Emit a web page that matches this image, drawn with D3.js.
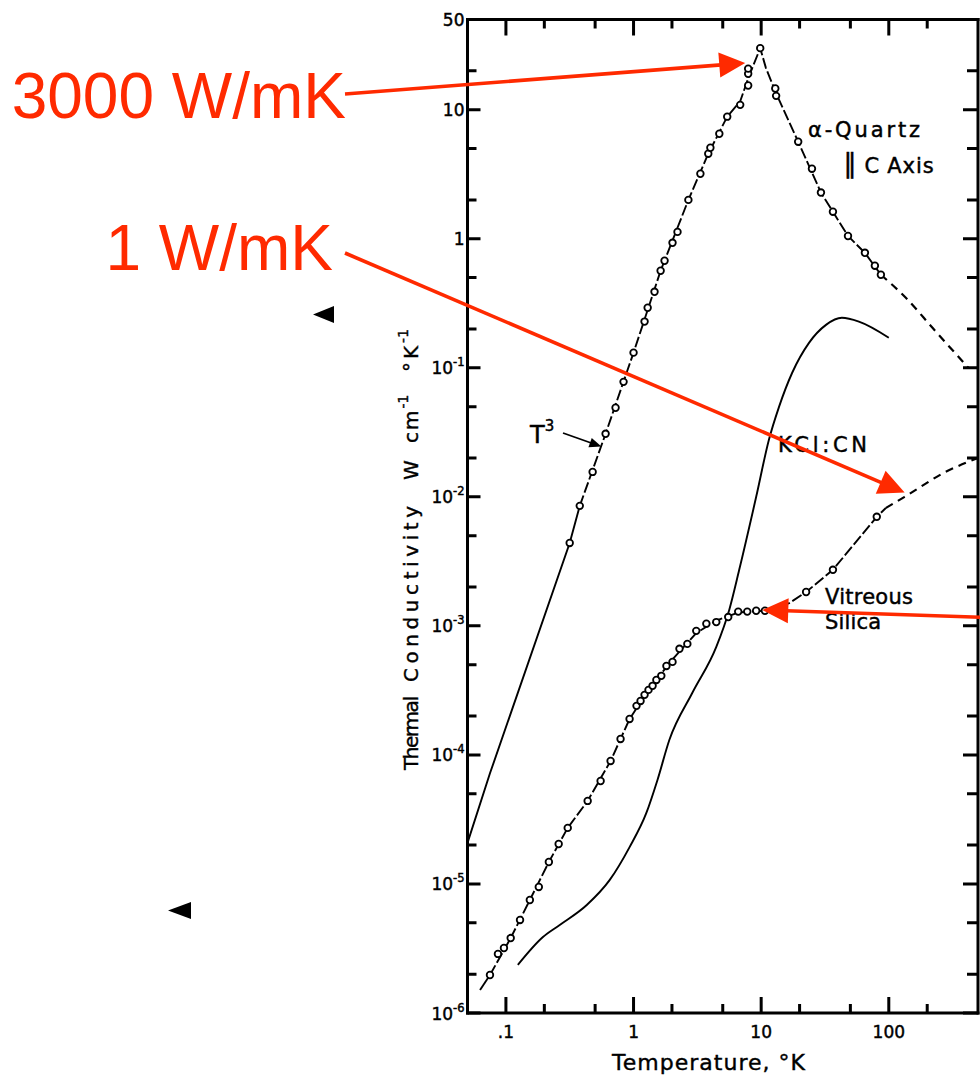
<!DOCTYPE html>
<html>
<head>
<meta charset="utf-8">
<script src="https://cdn.jsdelivr.net/npm/d3@7"></script>
<style>
  html, body { margin: 0; padding: 0; background: #fff; }
  svg { display: block; }
</style>
</head>
<body>
<svg id="chart" width="980" height="1080" xmlns="http://www.w3.org/2000/svg"></svg>
<script>
// Thermal conductivity k (W cm^-1 K^-1) against temperature T (K).

// α-quartz, heat flow parallel to the c axis: measured points [T, k]
const quartzPoints = [
  [0.316, 0.00439], [0.379, 0.00851], [0.478, 0.0156], [0.604, 0.0308],
  [0.723, 0.049], [0.835, 0.0778], [1.0, 0.131], [1.22, 0.228],
  [1.29, 0.292], [1.46, 0.388], [1.63, 0.565], [1.75, 0.675],
  [2.02, 0.93], [2.21, 1.13], [2.69, 2.0], [3.34, 3.19],
  [3.85, 4.56], [4.0, 5.07], [4.70, 6.51], [5.42, 8.83],
  [6.85, 10.9], [7.91, 15.4], [7.91, 19.0], [7.91, 20.8],
  [9.83, 30], [12.9, 14.6], [13.1, 12.8], [19.5, 5.65],
  [25.0, 3.49], [29.4, 2.28], [36.5, 1.62], [47.9, 1.05],
  [65.0, 0.778], [77.8, 0.618], [86.7, 0.526]
];
// α-quartz drawn curve (T^3 region below the first point)
const quartzCurve = [
  [0.05, 2.08e-5], [0.075, 7.2e-5], [0.316, 0.00439], [0.379, 0.00851],
  [0.604, 0.0308], [1.0, 0.131], [1.63, 0.565], [2.69, 2.0],
  [3.85, 4.56], [5.42, 8.83], [6.85, 11.6], [7.91, 17.5],
  [9.83, 30], [10.9, 21], [13.0, 13.6], [19.5, 5.65],
  [29.4, 2.28], [47.9, 1.05], [65.0, 0.778], [86.7, 0.526]
];
// α-quartz extrapolation to high temperature
const quartzTail = [[86.7, 0.526], [136, 0.349], [220, 0.204], [420, 0.1]];

// KCl:CN curve
const kclCurve = [
  [0.124, 2.36e-6], [0.195, 3.88e-6], [0.264, 4.81e-6], [0.430, 6.87e-6],
  [0.649, 1.07e-5], [0.931, 1.93e-5], [1.26, 3.55e-5], [1.54, 6.4e-5],
  [1.91, 1.31e-4], [2.89, 3.03e-4], [4.45, 6.88e-4], [5.62, 1.33e-3],
  [6.73, 2.72e-3], [9.14, 0.01], [11.5, 0.0277], [13.8, 0.0498],
  [17.5, 0.0915], [23.7, 0.156], [32.2, 0.215], [42.9, 0.244],
  [58.3, 0.228], [100, 0.171]
];

// Vitreous silica: measured points [T, k]
const silicaPoints = [
  [0.075, 1.97e-6], [0.0866, 2.87e-6], [0.0965, 3.19e-6], [0.109, 3.81e-6],
  [0.129, 5.26e-6], [0.154, 7.51e-6], [0.181, 9.48e-6], [0.217, 1.48e-5],
  [0.259, 2.04e-5], [0.305, 2.72e-5], [0.437, 4.40e-5], [0.552, 6.28e-5],
  [0.661, 8.98e-5], [0.791, 1.33e-4], [0.931, 1.90e-4], [1.055, 2.40e-4],
  [1.135, 2.62e-4], [1.22, 2.92e-4], [1.31, 3.19e-4], [1.41, 3.43e-4],
  [1.51, 3.81e-4], [1.65, 4.10e-4], [1.81, 4.89e-4], [2.02, 5.26e-4],
  [2.29, 6.64e-4], [2.64, 7.25e-4], [3.10, 9.15e-4], [3.72, 1.04e-3],
  [4.45, 1.07e-3], [5.52, 1.17e-3], [6.61, 1.29e-3], [7.78, 1.29e-3],
  [9.14, 1.31e-3], [10.7, 1.31e-3], [22.5, 1.83e-3], [36.5, 2.72e-3],
  [80.5, 7.0e-3]
];
const silicaCurve = [
  [0.0627, 1.51e-6], [0.075, 1.97e-6], [0.109, 3.81e-6], [0.154, 7.51e-6],
  [0.217, 1.48e-5], [0.305, 2.72e-5], [0.437, 4.4e-5], [0.661, 8.98e-5],
  [0.931, 1.9e-4], [1.31, 3.19e-4], [2.02, 5.5e-4], [3.1, 8.8e-4],
  [4.45, 1.1e-3], [6.61, 1.27e-3], [10.7, 1.31e-3], [16.6, 1.5e-3],
  [22.5, 1.83e-3], [36.5, 2.72e-3], [80.5, 7.0e-3], [94.8, 8.2e-3]
];
const silicaTail = [[94.8, 8.2e-3], [133, 0.01], [279, 0.0156], [500, 0.02]];

// Axis ticks
const xMajorTicks = [0.1, 1, 10, 100];
const xTickLabels = [".1", "1", "10", "100"];
const xMinorTicks = [0.2, 0.5, 2, 5, 20, 50, 200];
const yMajorTicks = [1e-6, 1e-5, 1e-4, 1e-3, 1e-2, 1e-1, 1, 10];
const yMinorTicks = [2e-6, 5e-6, 2e-5, 5e-5, 2e-4, 5e-4, 2e-3, 5e-3,
                     0.02, 0.05, 0.2, 0.5, 2, 5, 20];
const yLabelValues = [1e-6, 1e-5, 1e-4, 1e-3, 1e-2, 1e-1, 1, 10, 50];
const yLabelBase = ["10", "10", "10", "10", "10", "10", "1", "10", "50"];
const yLabelExp = ["-6", "-5", "-4", "-3", "-2", "-1", "", "", ""];

// Red call-outs: label text and the [T, k] each arrow points at
const calloutText = ["3000 W/mK", "1 W/mK"];
const calloutTarget = [[7.5, 23], [133, 0.0108], [10.2, 1.33e-3]];

const ink = "#000000";
const red = "#ff2a00";
const axisFont = "'DejaVu Sans', sans-serif";

const svg = d3.select("#chart");
const x = d3.scaleLog().domain([0.05, 500]).range([467.5, 978]);
const y = d3.scaleLog().domain([1e-6, 50]).range([1013, 19.5]);
const [x0, x1] = x.range();
const [yb, yt] = y.range();

// Frame: four sides
const frame = svg.append("g").attr("id", "frame");
const sides = [[x0, yb, x1, yb], [x0, yt, x1, yt], [x0, yt, x0, yb], [x1, yt, x1, yb]];
frame.selectAll("line.side").data(sides).join("line").attr("class", "side")
  .attr("x1", d => d[0]).attr("y1", d => d[1]).attr("x2", d => d[2]).attr("y2", d => d[3])
  .style("stroke", ink).style("stroke-width", "3px").style("stroke-linecap", "square");

// Inward ticks on all four sides
const xTicks = xMajorTicks.map(v => ({ v, len: 16 }))
  .concat(xMinorTicks.map(v => ({ v, len: 9 })));
const yTicks = yMajorTicks.map(v => ({ v, len: 13 }))
  .concat(yMinorTicks.map(v => ({ v, len: 9 })));
const tickPath = []
  .concat(xTicks.map(d => `M${x(d.v)},${yb}V${yb - d.len}`))
  .concat(xTicks.map(d => `M${x(d.v)},${yt}V${yt + d.len}`))
  .concat(yTicks.map(d => `M${x0},${y(d.v)}H${x0 + d.len}`))
  .concat(yTicks.map(d => `M${x1},${y(d.v)}H${x1 - d.len - 2}`))
  .join("");
frame.append("path").attr("d", tickPath)
  .style("fill", "none").style("stroke", ink).style("stroke-width", "3px");

// Tick labels
const tickText = svg.append("g")
  .attr("font-family", axisFont).attr("fill", ink)
  .attr("stroke", ink).attr("stroke-width", 0.45);
tickText.selectAll(".xl").data(xMajorTicks).join("text").attr("class", "xl")
  .attr("x", d => x(d)).attr("y", yb + 25)
  .attr("text-anchor", "middle").attr("font-size", 17)
  .text((d, i) => xTickLabels[i]);

const yl = tickText.selectAll(".ylab").data(yLabelValues).join("text").attr("class", "ylab")
  .attr("x", x0 - 3).attr("y", d => y(d) + 6.5)
  .attr("text-anchor", "end").attr("font-size", 17);
yl.append("tspan").text((d, i) => yLabelBase[i]);
yl.append("tspan").attr("dy", -8).attr("font-size", 11.5)
  .text((d, i) => yLabelExp[i]);

// Axis titles
const titles = svg.append("g")
  .attr("font-family", axisFont).attr("fill", ink)
  .attr("stroke", ink).attr("stroke-width", 0.4);
titles.append("text")
  .attr("x", 612).attr("y", 1070).attr("font-size", 22)
  .attr("textLength", 193).attr("lengthAdjust", "spacing")
  .text("Temperature, °K");

const yTitle = titles.append("g").attr("transform", "translate(418,0) rotate(-90)")
  .attr("font-size", 20);
yTitle.append("text").attr("x", -770).attr("y", 0)
  .attr("textLength", 74).attr("lengthAdjust", "spacing").text("Thermal");
yTitle.append("text").attr("x", -682).attr("y", 0)
  .attr("textLength", 176).attr("lengthAdjust", "spacing").text("Conductivity");
yTitle.append("text").attr("x", -480).attr("y", 0).text("W");
const cmT = yTitle.append("text").attr("x", -443).attr("y", 0);
cmT.append("tspan").attr("letter-spacing", 2).text("cm");
cmT.append("tspan").attr("dy", -10).attr("font-size", 14).text("-1");
const kT = yTitle.append("text").attr("x", -372).attr("y", 0);
kT.append("tspan").attr("letter-spacing", 3).text("°K");
kT.append("tspan").attr("dy", -10).attr("font-size", 14).text("-1");

// Curves
const line = d3.line().x(d => x(d[0])).y(d => y(d[1]));
const smooth = d3.line().x(d => x(d[0])).y(d => y(d[1])).curve(d3.curveMonotoneX);
const plot = svg.append("g").attr("fill", "none").attr("stroke", ink);

plot.append("path").datum(quartzCurve.filter(d => d[0] <= 0.38))
  .attr("d", line).attr("stroke-width", 1.9);
plot.append("path").datum(quartzCurve.filter(d => d[0] >= 0.379))
  .attr("d", line).attr("stroke-width", 1.9).attr("stroke-dasharray", "11,3");
plot.append("path").datum(quartzTail)
  .attr("d", smooth).attr("stroke-width", 2.2).attr("stroke-dasharray", "8,6");

plot.append("path").datum(kclCurve)
  .attr("d", smooth).attr("stroke-width", 1.9);

plot.append("path").datum(silicaCurve.filter(d => d[0] <= 0.076))
  .attr("d", line).attr("stroke-width", 1.9);
plot.append("path").datum(silicaCurve.filter(d => d[0] >= 0.075))
  .attr("d", line).attr("stroke-width", 1.9).attr("stroke-dasharray", "11,3");
plot.append("path").datum(silicaTail)
  .attr("d", smooth).attr("stroke-width", 2.2).attr("stroke-dasharray", "8,6");

// Data circles
function dots(data) {
  svg.append("g").selectAll("circle").data(data).join("circle")
    .attr("cx", d => x(d[0])).attr("cy", d => y(d[1])).attr("r", 3.3)
    .attr("fill", "#fff").attr("stroke", ink).attr("stroke-width", 1.8);
}
dots(quartzPoints);
dots(silicaPoints);

// Curve labels
const lab = svg.append("g").attr("font-family", axisFont).attr("font-size", 21)
  .attr("fill", ink).attr("stroke", ink).attr("stroke-width", 0.45);
lab.append("text").attr("x", 808).attr("y", 137)
  .attr("textLength", 112).attr("lengthAdjust", "spacing").text("α-Quartz");
const axisLab = lab.append("text").attr("x", 843).attr("y", 173);
axisLab.append("tspan").attr("font-size", 27).text("∥");
axisLab.append("tspan").attr("dx", 8).text("C");
axisLab.append("tspan").attr("dx", 8).attr("letter-spacing", 1).text("Axis");
lab.append("text").attr("x", 778).attr("y", 452)
  .attr("textLength", 89).attr("lengthAdjust", "spacing").text("KCl:CN");
lab.append("text").attr("x", 825).attr("y", 604)
  .attr("textLength", 88).attr("lengthAdjust", "spacing").text("Vitreous");
lab.append("text").attr("x", 825).attr("y", 629)
  .attr("textLength", 56).attr("lengthAdjust", "spacing").text("Silica");
const t3 = lab.append("text").attr("x", 530).attr("y", 443);
t3.append("tspan").attr("font-size", 24).text("T");
t3.append("tspan").attr("dy", -12).attr("font-size", 15).text("3");

// Arrow helper: shaft plus filled head
function arrow(g, xa, ya, xb, yb2, color, width, headLen, headHalf) {
  const dx = xb - xa, dy = yb2 - ya, L = Math.hypot(dx, dy);
  const ux = dx / L, uy = dy / L;
  const bx = xb - ux * headLen, by = yb2 - uy * headLen;
  g.append("line").attr("x1", xa).attr("y1", ya).attr("x2", bx + ux * 2).attr("y2", by + uy * 2)
    .attr("stroke", color).attr("stroke-width", width);
  g.append("path")
    .attr("d", `M${xb},${yb2}L${bx - uy * headHalf},${by + ux * headHalf}L${bx + uy * headHalf},${by - ux * headHalf}Z`)
    .attr("fill", color);
}

// T^3 pointer
arrow(svg.append("g"), 563, 433, x(0.56), y(0.0245), ink, 1.8, 12, 5);

// Red call-outs
const callouts = svg.append("g");
callouts.append("text").attr("x", 346).attr("y", 118).attr("text-anchor", "end")
  .attr("font-family", "'Liberation Sans', Arial, sans-serif").attr("font-size", 64)
  .attr("fill", red).text(calloutText[0]);
callouts.append("text").attr("x", 333).attr("y", 270).attr("text-anchor", "end")
  .attr("font-family", "'Liberation Sans', Arial, sans-serif").attr("font-size", 64)
  .attr("fill", red).text(calloutText[1]);
arrow(callouts, 345, 94, x(calloutTarget[0][0]), y(calloutTarget[0][1]), red, 3.6, 26, 12.5);
arrow(callouts, 345, 253, x(calloutTarget[1][0]), y(calloutTarget[1][1]), red, 3.6, 26, 12.5);
arrow(callouts, 1000, 618, x(calloutTarget[2][0]), y(calloutTarget[2][1]), red, 3.6, 26, 12.5);

// Small black pointer glyphs in the margin
const pointers = svg.append("g").attr("fill", "#000");
pointers.append("path").attr("d", "M313,314.5L334,306L334,323Z");
pointers.append("path").attr("d", "M168,910.5L191,902L191,919Z");
</script>
</body>
</html>
